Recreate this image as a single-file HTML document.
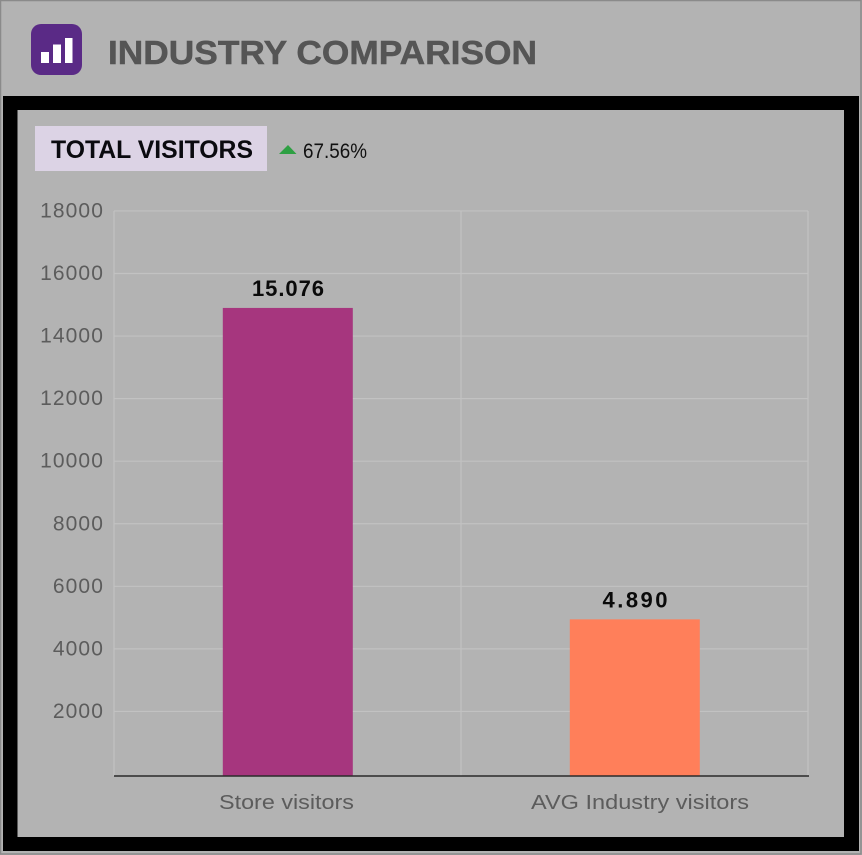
<!DOCTYPE html>
<html lang="en">
<head>
<meta charset="utf-8">
<title>Industry Comparison</title>
<style>
html,body{margin:0;padding:0;background:#b3b3b3;width:862px;height:855px;overflow:hidden}
svg{display:block;font-family:"Liberation Sans",sans-serif}
</style>
</head>
<body>
<svg id="chart" width="862" height="855" viewBox="0 0 862 855" xmlns="http://www.w3.org/2000/svg">
  <rect x="0" y="0" width="862" height="855" fill="#b3b3b3"/>
  <rect x="0.5" y="0.5" width="860.5" height="853.5" fill="none" stroke="#8a8a8a" stroke-width="1.5"/>
  <rect x="3" y="96" width="856" height="755" fill="#000"/>
  <rect x="17.5" y="110" width="826.5" height="727" fill="#b3b3b3"/>

  <g>
    <rect x="31" y="24" width="51" height="51" rx="10" fill="#5a2a86"/>
    <rect x="41" y="52" width="8" height="11" fill="#fff"/>
    <rect x="53" y="44.5" width="8" height="18.5" fill="#fff"/>
    <rect x="65" y="38" width="7.5" height="25" fill="#fff"/>
  </g>
  <text x="108" y="64" font-size="33" font-weight="700" fill="#555" stroke="#555" stroke-width="0.5" textLength="429" lengthAdjust="spacingAndGlyphs">INDUSTRY COMPARISON</text>

  <rect x="35" y="126" width="232" height="45" fill="#dcd3e5"/>
  <text x="51" y="158" font-size="25" font-weight="700" fill="#0a0a0f" textLength="202" lengthAdjust="spacingAndGlyphs">TOTAL VISITORS</text>
  <polygon points="279,154 288,145 296.500,154" fill="#2ea043"/>
  <text x="303" y="158" font-size="21" fill="#111" textLength="64" lengthAdjust="spacingAndGlyphs">67.56%</text>

  <g id="grid"></g>
  <g id="yAxis"></g>
  <g id="bars"></g>
  <g id="xAxis"></g>
</svg>
<script>
const categories = ['Store visitors', 'AVG Industry visitors'];
const barValues = [14900, 4944];
const valueLabels = ['15.076', '4.890'];
const yTicks = [2000, 4000, 6000, 8000, 10000, 12000, 14000, 16000, 18000];
const barColors = ['#a6367e', '#ff7f5a'];

const NS = 'http://www.w3.org/2000/svg';
const plot = { left: 114, right: 808, top: 211, base: 776, zero: 774, pxPerUnit: 62.56 / 2000 };
const categoryWidths = [135, 218];
const categoryShift = [-1, 5.5];
const valueWidths = [72, 65];
const barWidth = 130;

function yScale(v) { return plot.zero - v * plot.pxPerUnit; }
function bandWidth() { return (plot.right - plot.left) / categories.length; }
function xCenter(i) { return plot.left + bandWidth() * (i + 0.5); }
function make(tag, attrs, parent, text) {
  const el = document.createElementNS(NS, tag);
  for (const k in attrs) el.setAttribute(k, attrs[k]);
  if (text !== undefined) el.textContent = text;
  parent.appendChild(el);
  return el;
}

const grid = document.getElementById('grid');
const yAxis = document.getElementById('yAxis');
const bars = document.getElementById('bars');
const xAxis = document.getElementById('xAxis');

yTicks.forEach(function (t) {
  const y = yScale(t);
  const line = make('line', { x1: plot.left, x2: plot.right, y1: y, y2: y, stroke: '#c2c2c2', 'stroke-width': 1.2 }, grid);
  
  
  const label = make('text', { x: 104, y: y + 6.5, 'text-anchor': 'end', 'font-size': 21, fill: '#5c5c5c', 'letter-spacing': '1.1' }, yAxis, String(t));
  
  
});

for (let i = 0; i <= categories.length; i++) {
  const x = plot.left + bandWidth() * i;
  const line = make('line', { x1: x, x2: x, y1: plot.top, y2: plot.base, stroke: '#c2c2c2', 'stroke-width': 1.2 }, grid);
  
  
}

categories.forEach(function (c, i) {
  const cx = xCenter(i);
  const top = yScale(barValues[i]);
  const bar = make('rect', { x: cx - barWidth / 2 + 0.3, y: top, width: barWidth, height: plot.base - top, fill: barColors[i] }, bars);
  
  
  const value = make('text', { x: cx + 0.5, y: top - 12, 'text-anchor': 'middle', 'font-size': 22, 'font-weight': 700, fill: '#0a0a0a', textLength: valueWidths[i], lengthAdjust: 'spacing' }, bars, valueLabels[i]);
  
  
  const label = make('text', { x: cx + categoryShift[i], y: 809, 'text-anchor': 'middle', 'font-size': 20, fill: '#5c5c5c', textLength: categoryWidths[i], lengthAdjust: 'spacingAndGlyphs' }, xAxis, c);
  
  
});

const baseline = make('line', { x1: plot.left, x2: plot.right + 1, y1: plot.base, y2: plot.base, stroke: '#2b2b2b', 'stroke-width': 1.6 }, xAxis);


</script>
</body>
</html>
